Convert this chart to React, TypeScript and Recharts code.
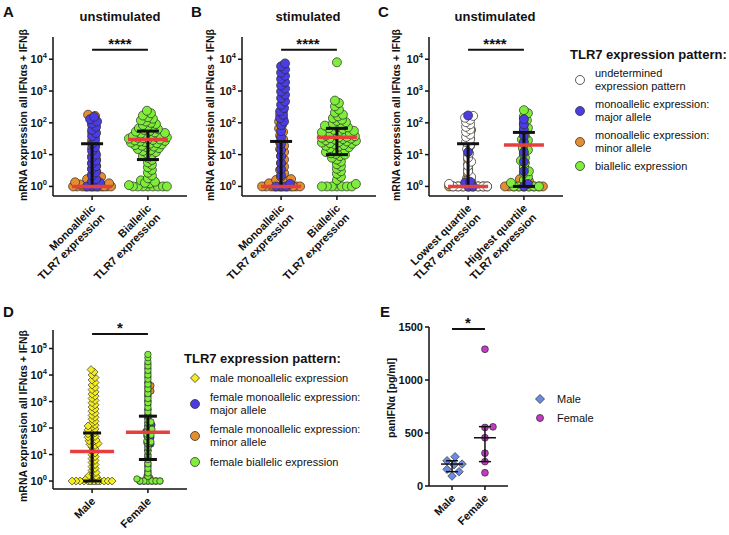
import React from 'react';
import { ScatterChart, Scatter, XAxis, YAxis, ReferenceLine } from 'recharts';

const FONT = '"Liberation Sans", Arial, sans-serif';

const ORANGE = '#E68E2F';
const BLUE = '#4B3DE3';
const GREEN = '#7FEE3B';
const WHITE = '#FFFFFF';
const YELLOW = '#F4EC1E';
const RED = '#E5403D';
const E_BLUE = '#6A8BE6';
const E_PINK = '#C43AC6';

const CATS_AB = [['Monoallelic', 'TLR7 expression'], ['Biallelic', 'TLR7 expression']];
const CATS_C = [['Lowest quartile', 'TLR7 expression'], ['Highest quartile', 'TLR7 expression']];
const CATS_SEX = [['Male'], ['Female']];

const LOG_TICKS = [1, 10, 100, 1000, 10000];
const LOG_TICKS_D = [1, 10, 100, 1000, 10000, 100000];
const E_TICKS = [0, 500, 1000, 1500];

// A - unstimulated
const A_MONO_MINOR = [1, 1, 1, 1, 1, 1, 1, 1, 1, 1, 1, 1, 1, 1, 1.15, 1.25, 1.35, 1.5, 1.6, 1.7, 2, 2.4, 3, 3.6, 4.5, 5.5, 7, 9, 12, 16, 21, 28, 37, 50, 65, 85, 110, 140, 165, 180];
const A_MONO_MAJOR = [1, 1, 1, 1.3, 1.45, 1.7, 2.2, 2.8, 3.5, 4.3, 5.2, 6.5, 8, 10, 13, 17, 22, 29, 38, 48, 60, 75, 95, 110, 130, 155];
const A_BI = [1, 1, 1, 1, 1, 1, 1, 1, 1.1, 1.25, 1.4, 1.55, 1.3, 1.8, 2.2, 2.7, 3.3, 4, 4.8, 5.7, 6.8, 8, 9, 10, 11, 12, 13, 14, 15, 16, 17, 18, 19, 20, 21, 22, 23, 24, 25, 26, 27, 28, 29, 30, 31, 32, 33, 34, 35, 36, 38, 40, 42, 44, 46, 48, 50, 53, 56, 60, 64, 68, 72, 78, 85, 92, 100, 110, 120, 135, 150, 170, 200, 240];
const A_STATS = [[1, 1, 22], [30, 7, 55]]; // median, lower, upper

// B - stimulated
const B_MONO_MINOR = [1, 1, 1, 1, 1, 1, 1, 1, 1, 1, 1, 1, 1, 1, 1.25, 1.4, 1.5, 1.6, 1.7, 2, 2.6, 3.3, 4.2, 5.4, 7, 9, 12, 15, 19, 24, 31, 40, 52, 66, 85, 110, 140, 180, 240];
const B_MONO_MAJOR = [1, 1, 1, 1.2, 2.2, 3.5, 5.5, 9, 14, 22, 35, 55, 85, 110, 140, 180, 230, 290, 370, 470, 600, 760, 960, 1200, 1500, 1900, 2400, 3000, 3800, 4800, 6000, 7400];
const B_BI = [1, 1, 1, 1, 1, 1, 1, 1.2, 1.6, 2, 2.5, 3, 3.6, 4.3, 5, 6, 7, 8, 9, 10, 10.5, 11, 12, 13, 14, 15, 16, 17, 18, 19, 20, 21, 22, 23, 24, 25, 26, 27, 28, 30, 31, 32, 33, 34, 35, 36, 38, 40, 42, 44, 46, 48, 50, 53, 56, 60, 64, 68, 72, 77, 82, 88, 95, 105, 115, 125, 140, 160, 180, 210, 260, 330, 420, 500, 8000];
const B_STATS = [[1, 1, 26], [35, 10, 67]];

// C - unstimulated, TLR7 quartiles
const C_LOW_MINOR = [1, 1, 1, 1, 1, 1, 1, 1, 1, 1, 1.3, 1.5, 1.8, 2.5, 3.5, 5, 7, 10, 14, 19, 25, 32, 45, 60, 80];
const C_LOW_UNDET = [1, 1, 1, 1, 1, 1, 1, 1, 1.2, 1.5, 2, 3, 4.5, 6, 8, 11, 15, 20, 25, 30, 36, 43, 52, 62, 75, 90, 105, 125, 145, 165];
const C_LOW_MAJOR = [1, 1, 1.3, 1.4, 12, 170];
const C_HIGH_MINOR = [1, 1, 1, 1, 1, 1, 1, 1, 1, 1.4, 1.5, 1.7, 4, 9, 20, 35, 50, 70, 100, 140];
const C_HIGH_BI = [1, 1, 1, 1, 1, 1, 1.3, 1.6, 2, 2.6, 3, 4, 5.5, 6.5, 8, 11, 14, 16, 22, 28, 30, 40, 55, 70, 90, 120, 160, 200, 250];
const C_HIGH_MAJOR = [1, 1.2, 3, 6, 12, 25, 40, 60, 90, 130];
const C_STATS = [[1, 1, 22], [20, 1, 50]];

// D - by sex
const D_MALE = [1, 1, 1, 1, 1, 1, 1, 1, 1, 1, 1, 1, 1, 1, 1.2, 1.35, 1.5, 1.6, 1.8, 2.1, 2.5, 3, 3.5, 4.2, 5, 6, 7, 8.3, 9.8, 11.5, 13.5, 16, 19, 22, 26, 30, 35, 41, 48, 56, 66, 78, 92, 108, 128, 150, 180, 215, 255, 300, 360, 430, 520, 620, 750, 900, 1100, 1300, 1600, 1900, 2300, 2800, 3400, 4200, 5200, 6500, 8000, 10000, 13000, 16000, 24, 33, 45, 60, 85, 120];
const D_FEM_MINOR = [1, 1, 1, 1, 1, 1, 1.3, 1.5, 2.2, 4, 8, 15, 30, 60, 120, 250, 500, 1000, 1500, 2000, 2500, 3200, 4000, 5000];
const D_FEM_MAJOR = [1, 1, 1, 1, 1, 1.8, 2.5, 3.5, 5, 7, 10, 14, 20, 28, 38, 50, 65, 85, 120, 160, 230, 330, 500, 750, 1100, 1700, 2500, 3800, 5500, 8500, 12000, 18000, 26000, 25, 45, 75, 130];
const D_FEM_BI = [1, 1, 1, 1, 1, 1, 1.2, 1.5, 2, 3, 4.5, 6.5, 9, 13, 18, 25, 33, 45, 60, 80, 110, 150, 200, 280, 400, 600, 900, 1300, 2000, 3000, 4500, 7000, 10000, 15000, 22000, 32000, 45000, 60000, 30, 55, 90, 170];
const D_STATS = [[13, 1, 65], [70, 6.5, 280]];

// E - panIFNa protein
const E_MALE = [94, 135, 157, 201, 207, 238, 276];
const E_FEMALE = [125, 230, 310, 455, 552, 558, 1290];
const E_STATS = [[207, 135, 238], [455, 230, 560]];

const PLOT_H = 159;

// simple beeswarm: sort by value, push each dot sideways until it clears its neighbours
function swarm(vals: number[], toPx: (v: number) => number, pxPerX: number, minDist: number, maxHalf: number) {
    const order = vals.map((_, i) => i).sort((a, b) => vals[a] - vals[b]);
    const placed: { x: number; y: number }[] = [];
    const off = new Array(vals.length).fill(0);
    for (const i of order) {
        const y = toPx(vals[i]);
        let best = 0;
        let bestD = -1;
        for (let k = 0; k <= 2 * maxHalf; k++) {
            const dx = k === 0 ? 0 : (k % 2 ? 1 : -1) * Math.ceil(k / 2);
            let dmin = Infinity;
            for (const q of placed) {
                const d = Math.hypot(q.x - dx, q.y - y);
                if (d < dmin) dmin = d;
            }
            if (dmin >= minDist) {
                best = dx;
                break;
            }
            if (dmin > bestD) {
                bestD = dmin;
                best = dx;
            }
        }
        placed.push({ x: best, y });
        off[i] = best / pxPerX;
    }
    return off;
}

const dot = (fill: string, r: number, diamond?: boolean) => (p: any) => {
    if (p.cx == null || p.cy == null) return <g />;
    if (diamond) {
        const s = r * 1.25;
        return (
            <path
                d={`M${p.cx},${p.cy - s}L${p.cx + s},${p.cy}L${p.cx},${p.cy + s}L${p.cx - s},${p.cy}Z`}
                fill={fill}
                stroke="#333"
                strokeWidth={0.7}
            />
        );
    }
    return <circle cx={p.cx} cy={p.cy} r={r} fill={fill} stroke="#2a2a2a" strokeWidth={0.7} />;
};

const hLine = (color: string, half: number, w: number) => (p: any) => {
    if (p.cx == null || p.cy == null) return <g />;
    return <line x1={p.cx - half} x2={p.cx + half} y1={p.cy} y2={p.cy} stroke={color} strokeWidth={w} />;
};

const powTick = (props: any) => {
    const { x, y, payload } = props;
    const e = Math.round(Math.log10(payload.value));
    return (
        <text x={x} y={y + 4} textAnchor="end" fontSize={11} fontWeight="bold" fill="#111" fontFamily={FONT}>
            10<tspan dy={-5} fontSize={7.5}>{e}</tspan>
        </text>
    );
};

const numTick = (props: any) => {
    const { x, y, payload } = props;
    return (
        <text x={x} y={y + 4} textAnchor="end" fontSize={11} fontWeight="bold" fill="#111" fontFamily={FONT}>
            {payload.value}
        </text>
    );
};

const catTick = (cats: string[][]) => (props: any) => {
    const { x, y, payload } = props;
    const lines = cats[Math.round(payload.value) - 1] || [];
    return (
        <g transform={`translate(${x + 4},${y + 7}) rotate(-45)`}>
            {lines.map((l, i) => (
                <text key={i} x={0} y={i * 13} textAnchor="end" fontSize={11} fontWeight="bold" fill="#111" fontFamily={FONT}>
                    {l}
                </text>
            ))}
        </g>
    );
};

type Group = { cat: number; values: number[]; fill: string; diamond?: boolean };

type PanelProps = {
    left: number;
    top: number;
    plotW: number;
    log: boolean;
    domain: [number, number];
    ticks: number[];
    cats: string[][];
    groups: Group[];
    stats: number[][];
    sigY: number;
    r: number;
    minDist: number;
    maxHalf: number;
    medianColor: string;
    medianHalf: number;
    medianW: number;
    barW: number;
    capHalf: number;
};

function SwarmPanel(p: PanelProps) {
    const [d0, d1] = p.domain;
    const pxPerX = p.plotW / 2.4;
    const toPx = p.log
        ? (v: number) => (Math.log10(v) * PLOT_H) / (Math.log10(d1) - Math.log10(d0))
        : (v: number) => (v * PLOT_H) / (d1 - d0);
    const series = p.groups.map((g) => {
        const off = swarm(g.values, toPx, pxPerX, p.minDist, p.maxHalf);
        return { ...g, data: g.values.map((v, i) => ({ x: g.cat + off[i], y: v })) };
    });
    const medians = p.stats.map(([m], i) => ({ x: i + 1, y: m }));
    const axisStyle = { stroke: '#111', strokeWidth: 1.5 };

    return (
        <div style={{ position: 'absolute', left: p.left, top: p.top }}>
            <ScatterChart width={53 + p.plotW + 3} height={300} margin={{ top: 37, right: 3, left: 0, bottom: 0 }}>
                <XAxis
                    type="number"
                    dataKey="x"
                    domain={[0.3, 2.7]}
                    ticks={[1, 2]}
                    allowDataOverflow
                    interval={0}
                    height={104}
                    tickSize={4}
                    axisLine={axisStyle}
                    tickLine={axisStyle}
                    tick={catTick(p.cats)}
                />
                <YAxis
                    type="number"
                    dataKey="y"
                    scale={p.log ? 'log' : 'linear'}
                    domain={p.domain}
                    ticks={p.ticks}
                    allowDataOverflow
                    interval={0}
                    width={53}
                    tickSize={4}
                    axisLine={axisStyle}
                    tickLine={axisStyle}
                    tick={p.log ? powTick : numTick}
                />
                <ReferenceLine
                    segment={[{ x: 1, y: p.sigY }, { x: 2, y: p.sigY }]}
                    stroke="#111"
                    strokeWidth={2}
                    ifOverflow="visible"
                />
                {series.map((s, i) => (
                    <Scatter key={i} data={s.data} isAnimationActive={false} shape={dot(s.fill, p.r, s.diamond)} />
                ))}
                {p.stats.map(([, lo, hi], i) => (
                    <Scatter
                        key={`w${i}`}
                        data={[{ x: i + 1, y: lo }, { x: i + 1, y: hi }]}
                        isAnimationActive={false}
                        line={{ stroke: '#111', strokeWidth: p.barW }}
                        shape={hLine('#111', p.capHalf, p.barW)}
                    />
                ))}
                <Scatter data={medians} isAnimationActive={false} shape={hLine(p.medianColor, p.medianHalf, p.medianW)} />
            </ScatterChart>
        </div>
    );
}

const abs = (left: number, top: number, extra: React.CSSProperties = {}): React.CSSProperties => ({
    position: 'absolute',
    left,
    top,
    whiteSpace: 'nowrap',
    lineHeight: 1,
    ...extra,
});

const Letter = ({ t, x, y }: { t: string; x: number; y: number }) => (
    <div style={abs(x, y, { fontSize: 15, fontWeight: 'bold' })}>{t}</div>
);

const Centered = ({ t, x, y, size }: { t: string; x: number; y: number; size: number }) => (
    <div style={abs(x, y, { fontSize: size, fontWeight: 'bold', transform: 'translate(-50%, -50%)' })}>{t}</div>
);

const YLabel = ({ t, x, y }: { t: string; x: number; y: number }) => (
    <div style={abs(x, y, { fontSize: 10.5, fontWeight: 'bold', transform: 'translate(-50%, -50%) rotate(-90deg)' })}>{t}</div>
);

const Swatch = ({ fill, diamond, size = 9 }: { fill: string; diamond?: boolean; size?: number }) => (
    <svg width={12} height={12} style={{ display: 'block' }}>
        {diamond ? (
            <path d="M6,1.5L10.5,6L6,10.5L1.5,6Z" fill={fill} stroke="#333" strokeWidth={0.8} />
        ) : (
            <circle cx={6} cy={6} r={size / 2} fill={fill} stroke="#333" strokeWidth={0.8} />
        )}
    </svg>
);

type LegendRow = { fill: string; lines: string[]; y: number; diamond?: boolean };

const Legend = ({ x, textX, rows, size }: { x: number; textX: number; rows: LegendRow[]; size?: number }) => (
    <>
        {rows.map((r, i) => (
            <React.Fragment key={i}>
                <div style={abs(x - 6, r.y - 6)}>
                    <Swatch fill={r.fill} diamond={r.diamond} size={size} />
                </div>
                <div style={abs(textX, r.y, { fontSize: 11, lineHeight: '13px', transform: 'translateY(-50%)' })}>
                    {r.lines.map((l, j) => (
                        <div key={j}>{l}</div>
                    ))}
                </div>
            </React.Fragment>
        ))}
    </>
);

const Y_TITLE = 'mRNA expression all IFNαs + IFNβ';

export default function App() {
    const common = {
        plotW: 134,
        log: true,
        domain: [0.5, 50000] as [number, number],
        ticks: LOG_TICKS,
        sigY: 20000,
        r: 4.5,
        minDist: 4.5,
        maxHalf: 19,
        medianColor: RED,
        medianHalf: 20,
        medianW: 3.5,
        barW: 3,
        capHalf: 11,
    };

    return (
        <div style={{ position: 'absolute', left: 0, top: 0, width: 729, height: 535, background: '#fff', fontFamily: FONT, color: '#111', overflow: 'hidden' }}>
            <SwarmPanel
                {...common}
                left={0}
                top={0}
                cats={CATS_AB}
                stats={A_STATS}
                groups={[
                    { cat: 1, values: A_MONO_MINOR, fill: ORANGE },
                    { cat: 1, values: A_MONO_MAJOR, fill: BLUE },
                    { cat: 2, values: A_BI, fill: GREEN },
                ]}
            />
            <SwarmPanel
                {...common}
                left={189}
                top={0}
                cats={CATS_AB}
                stats={B_STATS}
                groups={[
                    { cat: 1, values: B_MONO_MINOR, fill: ORANGE },
                    { cat: 1, values: B_MONO_MAJOR, fill: BLUE },
                    { cat: 2, values: B_BI, fill: GREEN },
                ]}
            />
            <SwarmPanel
                {...common}
                left={376}
                top={0}
                cats={CATS_C}
                stats={C_STATS}
                groups={[
                    { cat: 1, values: C_LOW_MINOR, fill: ORANGE },
                    { cat: 1, values: C_LOW_UNDET, fill: WHITE },
                    { cat: 1, values: C_LOW_MAJOR, fill: BLUE },
                    { cat: 2, values: C_HIGH_MINOR, fill: ORANGE },
                    { cat: 2, values: C_HIGH_BI, fill: GREEN },
                    { cat: 2, values: C_HIGH_MAJOR, fill: BLUE },
                ]}
            />
            <SwarmPanel
                {...common}
                left={0}
                top={293}
                domain={[0.5, 500000]}
                ticks={LOG_TICKS_D}
                sigY={350000}
                r={3.2}
                minDist={3.3}
                maxHalf={21}
                medianHalf={22}
                capHalf={9}
                cats={CATS_SEX}
                stats={D_STATS}
                groups={[
                    { cat: 1, values: D_MALE, fill: YELLOW, diamond: true },
                    { cat: 2, values: D_FEM_MINOR, fill: ORANGE },
                    { cat: 2, values: D_FEM_MAJOR, fill: BLUE },
                    { cat: 2, values: D_FEM_BI, fill: GREEN },
                ]}
            />
            <SwarmPanel
                left={376}
                top={290}
                plotW={79}
                log={false}
                domain={[0, 1500]}
                ticks={E_TICKS}
                sigY={1480}
                r={3.4}
                minDist={8}
                maxHalf={10}
                medianColor="#111"
                medianHalf={11}
                medianW={1.5}
                barW={1.5}
                capHalf={6}
                cats={CATS_SEX}
                stats={E_STATS}
                groups={[
                    { cat: 1, values: E_MALE, fill: E_BLUE, diamond: true },
                    { cat: 2, values: E_FEMALE, fill: E_PINK },
                ]}
            />

            <Letter t="A" x={3} y={4} />
            <Letter t="B" x={191} y={4} />
            <Letter t="C" x={378} y={4} />
            <Letter t="D" x={3} y={304} />
            <Letter t="E" x={380} y={304} />

            <Centered t="unstimulated" x={120} y={16} size={13} />
            <Centered t="stimulated" x={308} y={16} size={13} />
            <Centered t="unstimulated" x={495} y={16} size={13} />

            <Centered t="****" x={120} y={43} size={15} />
            <Centered t="****" x={308} y={43} size={15} />
            <Centered t="****" x={495} y={43} size={15} />
            <Centered t="*" x={120} y={327} size={15} />
            <Centered t="*" x={468} y={322} size={15} />

            <YLabel t={Y_TITLE} x={23} y={115} />
            <YLabel t={Y_TITLE} x={210} y={115} />
            <YLabel t={Y_TITLE} x={396} y={115} />
            <YLabel t={Y_TITLE} x={23} y={416} />
            <YLabel t="panIFNα [pg/ml]" x={391} y={398} />

            <div style={abs(570, 48, { fontSize: 13, fontWeight: 'bold' })}>TLR7 expression pattern:</div>
            <Legend
                x={580}
                textX={595}
                rows={[
                    { fill: WHITE, lines: ['undetermined', 'expression pattern'], y: 80 },
                    { fill: BLUE, lines: ['monoallelic expression:', 'major allele'], y: 111 },
                    { fill: ORANGE, lines: ['monoallelic expression:', 'minor allele'], y: 142 },
                    { fill: GREEN, lines: ['biallelic expression'], y: 166 },
                ]}
            />

            <div style={abs(184, 352, { fontSize: 13, fontWeight: 'bold' })}>TLR7 expression pattern:</div>
            <Legend
                x={195}
                textX={210}
                rows={[
                    { fill: YELLOW, lines: ['male monoallelic expression'], y: 378, diamond: true },
                    { fill: BLUE, lines: ['female monoallelic expression:', 'major allele'], y: 404 },
                    { fill: ORANGE, lines: ['female monoallelic expression:', 'minor allele'], y: 436 },
                    { fill: GREEN, lines: ['female biallelic expression'], y: 462 },
                ]}
            />

            <Legend
                x={540}
                textX={557}
                size={7}
                rows={[
                    { fill: E_BLUE, lines: ['Male'], y: 399, diamond: true },
                    { fill: E_PINK, lines: ['Female'], y: 418 },
                ]}
            />
        </div>
    );
}
